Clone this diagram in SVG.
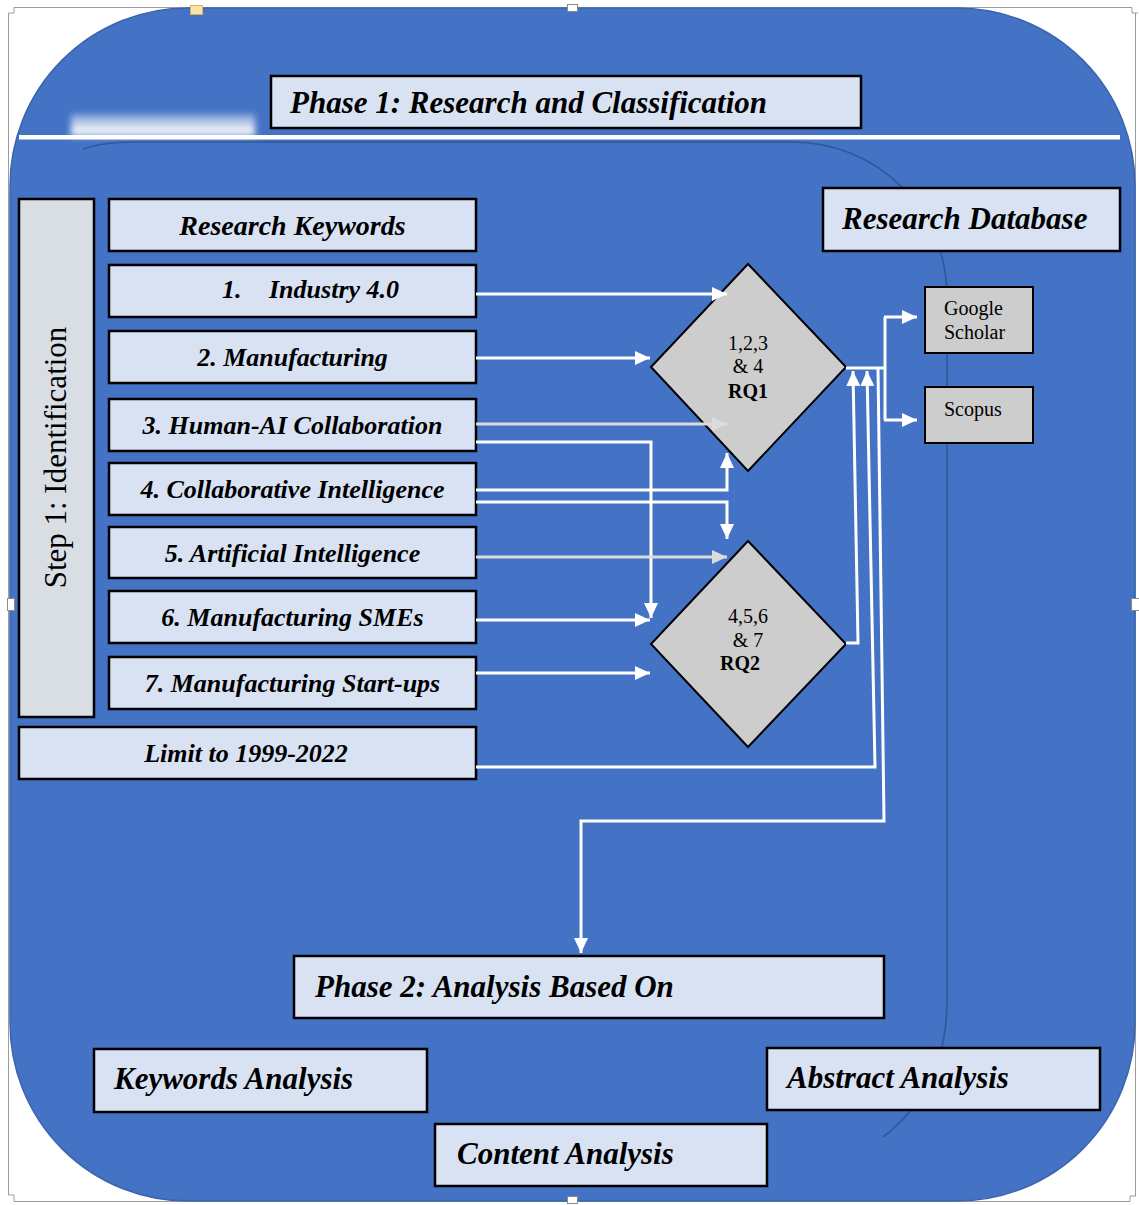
<svg xmlns="http://www.w3.org/2000/svg" width="1139" height="1205" viewBox="0 0 1139 1205">
  <style>
    .frame { fill: none; stroke: #9c9c9c; stroke-width: 1; }
    .handle { fill: #ffffff; stroke: #8c8c8c; stroke-width: 1; }
    .box { fill: #D9E2F3; stroke: #000; stroke-width: 2.5; }
    .side { fill: #D9DDE4; stroke: #000; stroke-width: 2.5; }
    .grey { fill: #CDCDCD; stroke: #000; stroke-width: 2; }
    .head { font-family: "Liberation Serif", "Times New Roman", serif; font-weight: bold; font-style: italic; font-size: 31px; fill: #000; }
    .kw { font-family: "Liberation Serif", "Times New Roman", serif; font-weight: bold; font-style: italic; font-size: 26px; fill: #000; text-anchor: middle; }
    .plain { font-family: "Liberation Serif", "Times New Roman", serif; font-size: 20px; fill: #000; }
    .mid { text-anchor: middle; }
    .bold { font-weight: bold; }
    .conn { fill: none; stroke: #ffffff; stroke-width: 3; marker-end: url(#ah); }
    .conn.light { stroke: #DCDCDC; marker-end: url(#ahl); }
    .line { fill: none; stroke: #ffffff; stroke-width: 3; }
  </style>
  <defs>
    <marker id="ah" markerUnits="userSpaceOnUse" markerWidth="16" markerHeight="16" refX="15" refY="7" orient="auto">
      <path d="M0,0 L15,7 L0,14 Z" fill="#ffffff"/>
    </marker>
    <marker id="ahl" markerUnits="userSpaceOnUse" markerWidth="16" markerHeight="16" refX="15" refY="7" orient="auto">
      <path d="M0,0 L15,7 L0,14 Z" fill="#DCDCDC"/>
    </marker>
    <linearGradient id="glowFill" x1="0" y1="0" x2="0" y2="1">
      <stop offset="0" stop-color="#ffffff" stop-opacity="0.3"/>
      <stop offset="0.6" stop-color="#ffffff" stop-opacity="0.8"/>
      <stop offset="1" stop-color="#ffffff" stop-opacity="1"/>
    </linearGradient>
    <filter id="soft" x="-20%" y="-60%" width="140%" height="220%">
      <feGaussianBlur stdDeviation="3"/>
    </filter>
  </defs>

  <!-- page frame with corner marks -->
  <g id="frame">
    <path class="frame" d="M14,7.5 H1132 M8.5,13 V1195 M1135.5,13 V1196 M14,1201.5 H1130"/>
    <path class="frame" d="M8.5,13 H14 V7.5 M1132,7.5 V13 H1138 M8.5,1195 H14 V1201.5 M1130,1201.5 V1196 H1136"/>
  </g>

  <!-- rounded blue panel -->
  <g id="panel">
    <rect x="10" y="8" width="1125" height="1193" rx="178" ry="178" fill="#4472C4" stroke="#3A64AF" stroke-width="1.5"/>
    <rect x="71" y="114" width="184" height="22" fill="url(#glowFill)" filter="url(#soft)"/>
    <rect x="19" y="135" width="1101" height="4.5" fill="#ffffff"/>
    <path d="M83,149 C97,144 112,142 135,142 L793,142 A154,154 0 0 1 947,296 L947,1000 C947,1060 925,1105 883,1137" fill="none" stroke="#2F528F" stroke-width="1.6" stroke-opacity="0.85"/>
  </g>

  <!-- selection handles -->
  <g id="handles">
    <rect x="190.5" y="5.5" width="12" height="9" fill="#FBE3A4" stroke="#D6B46C"/>
    <rect class="handle" x="567.5" y="4.5" width="10" height="7"/>
    <rect class="handle" x="7.5" y="598.5" width="7" height="12"/>
    <rect class="handle" x="1131.5" y="598.5" width="8" height="12"/>
    <rect class="handle" x="567.5" y="1196.5" width="10" height="7"/>
  </g>

  <g id="phase1">
    <rect class="box" x="271" y="76" width="590" height="52"/>
    <text class="head" x="290" y="113">Phase 1: Research and Classification</text>
  </g>

  <g id="step1">
    <rect class="side" x="19" y="199" width="75" height="518"/>
    <text class="plain mid" transform="translate(66,457.5) rotate(-90)" style="font-size:31px">Step 1: Identification</text>
  </g>

  <g id="kw-header">
    <rect class="box" x="109" y="199" width="367" height="52"/>
    <text class="kw" x="292.5" y="235" style="font-size:28px">Research Keywords</text>
  </g>
  <g id="kw1">
    <rect class="box" x="109" y="265" width="367" height="52"/>
    <text class="kw" x="222" y="298" style="text-anchor:start">1.</text>
    <text class="kw" x="269" y="298" style="text-anchor:start">Industry 4.0</text>
  </g>
  <g id="kw2">
    <rect class="box" x="109" y="331" width="367" height="52"/>
    <text class="kw" x="292.5" y="366">2. Manufacturing</text>
  </g>
  <g id="kw3">
    <rect class="box" x="109" y="399" width="367" height="52"/>
    <text class="kw" x="292.5" y="434">3. Human-AI Collaboration</text>
  </g>
  <g id="kw4">
    <rect class="box" x="109" y="463" width="367" height="52"/>
    <text class="kw" x="292.5" y="498">4. Collaborative Intelligence</text>
  </g>
  <g id="kw5">
    <rect class="box" x="109" y="527" width="367" height="51"/>
    <text class="kw" x="292.5" y="562">5. Artificial Intelligence</text>
  </g>
  <g id="kw6">
    <rect class="box" x="109" y="591" width="367" height="52"/>
    <text class="kw" x="292.5" y="626">6. Manufacturing SMEs</text>
  </g>
  <g id="kw7">
    <rect class="box" x="109" y="657" width="367" height="52"/>
    <text class="kw" x="292.5" y="692">7. Manufacturing Start-ups</text>
  </g>
  <g id="limit">
    <rect class="box" x="19" y="727" width="457" height="52"/>
    <text class="kw" x="246" y="762">Limit to 1999-2022</text>
  </g>

  <g id="rq1">
    <polygon class="grey" points="748,264 846,367 748,471 651,367"/>
    <text class="plain mid" x="748" y="350">1,2,3</text>
    <text class="plain mid" x="748" y="373">&amp; 4</text>
    <text class="plain mid bold" x="748" y="398">RQ1</text>
  </g>
  <g id="rq2">
    <polygon class="grey" points="748,541 846,644 748,747 651,644"/>
    <text class="plain mid" x="748" y="623">4,5,6</text>
    <text class="plain mid" x="748" y="647">&amp; 7</text>
    <text class="plain mid bold" x="740" y="670">RQ2</text>
  </g>

  <g id="database">
    <rect class="box" x="823" y="188" width="297" height="63"/>
    <text class="head" x="842" y="229">Research Database</text>
  </g>
  <g id="scholar">
    <rect class="grey" x="925" y="287" width="108" height="66"/>
    <text class="plain" x="944" y="315">Google</text>
    <text class="plain" x="944" y="339">Scholar</text>
  </g>
  <g id="scopus">
    <rect class="grey" x="925" y="387" width="108" height="56"/>
    <text class="plain" x="944" y="416">Scopus</text>
  </g>

  <g id="phase2">
    <rect class="box" x="294" y="956" width="590" height="62"/>
    <text class="head" x="315" y="997">Phase 2: Analysis Based On</text>
  </g>
  <g id="keywords-analysis">
    <rect class="box" x="94" y="1049" width="333" height="63"/>
    <text class="head" x="114" y="1089">Keywords Analysis</text>
  </g>
  <g id="abstract-analysis">
    <rect class="box" x="767" y="1048" width="333" height="62"/>
    <text class="head" x="787" y="1088">Abstract Analysis</text>
  </g>
  <g id="content-analysis">
    <rect class="box" x="435" y="1124" width="332" height="62"/>
    <text class="head" x="457" y="1164">Content Analysis</text>
  </g>

  <g id="connectors">
    <path class="conn" d="M476,294 H727"/>
    <path class="conn" d="M476,358 H650"/>
    <path class="conn light" d="M476,424 H727"/>
    <path class="conn" d="M476,442 H651 V618"/>
    <path class="conn" d="M476,490 H727 V453"/>
    <path class="conn" d="M476,502 H727 V539"/>
    <path class="conn light" d="M476,557 H727"/>
    <path class="conn" d="M476,620 H650"/>
    <path class="conn" d="M476,673 H650"/>
    <path class="conn" d="M846,643 H858 L853,371"/>
    <path class="conn" d="M476,767 H875 L867,371"/>
    <path class="line" d="M846,368 H885"/>
    <path class="line" d="M885,317 V420"/>
    <path class="conn" d="M884,317 H917"/>
    <path class="conn" d="M884,420 H917"/>
    <path class="conn" d="M878,368 L884,821 H581 V953"/>
  </g>
</svg>
